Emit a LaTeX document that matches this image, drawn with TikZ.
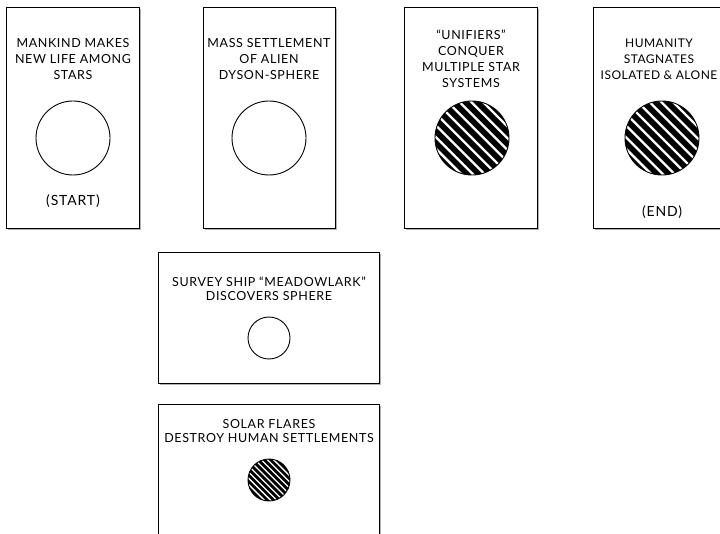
\documentclass[tikz,border=0pt]{standalone}
\usepackage{fontspec}
\setmainfont{Lato}
\usetikzlibrary{calc}
\begin{document}
\begin{tikzpicture}[x=1pt,y=-1pt,
  box/.style={draw=black, line width=0.9pt, fill=white, inner sep=0pt},
  lbl/.style={align=center, font=\fontsize{12.5}{16}\selectfont\addfontfeature{LetterSpace=5}, inner sep=0pt},
  lbls/.style={align=center, font=\fontsize{12.5}{13.5}\selectfont\addfontfeature{LetterSpace=5}, inner sep=0pt},
  endlbl/.style={align=center, font=\fontsize{14}{16}\selectfont\addfontfeature{LetterSpace=6}, inner sep=0pt},
  ring/.style={draw=black, line width=0.9pt, fill=white, circle, inner sep=0pt},
  shad/.style={fill=black!30}]
\useasboundingbox (0,0) rectangle (720,534);
% shadows
\fill[shad] (8,9) rectangle (141,230);
\fill[shad] (205,9) rectangle (337,230);
\fill[shad] (406,9) rectangle (539,230);
\fill[shad] (595,9) rectangle (728,230);
\fill[shad] (160,254) rectangle (381,385);
\fill[shad] (160,406) rectangle (381,540);
% boxes
\node[box, minimum width=133pt, minimum height=221pt] (b1) at (72.5,117.5) {};
\node[box, minimum width=132pt, minimum height=221pt] (b2) at (269,117.5) {};
\node[box, minimum width=133pt, minimum height=221pt] (b3) at (470.5,117.5) {};
\node[box, minimum width=133pt, minimum height=221pt] (b4) at (659.5,117.5) {};
\node[box, minimum width=221pt, minimum height=131pt] (b5) at (268.5,317.5) {};
\node[box, minimum width=221pt, minimum height=131pt] (b6) at (268.5,469.5) {};
% texts
\node[lbl] (t1) at (73,59) {MANKIND MAKES\\NEW LIFE AMONG\\STARS};
\node[endlbl] (s1) at (73,201) {(START)};
\node[lbl] (t2) at (269,59) {MASS SETTLEMENT\\OF ALIEN\\DYSON-SPHERE};
\node[lbl] (t3) at (471,59) {“UNIFIERS”\\CONQUER\\MULTIPLE STAR\\SYSTEMS};
\node[lbl, font=\fontsize{12}{16}\selectfont\addfontfeature{LetterSpace=4}] (t4) at (659,59) {HUMANITY\\STAGNATES\\ISOLATED \& ALONE};
\node[endlbl] (s4) at (662,212) {(END)};
\node[lbls] (t5) at (269,289) {SURVEY SHIP “MEADOWLARK”\\DISCOVERS SPHERE};
\node[lbls] (t6) at (269,431) {SOLAR FLARES\\DESTROY HUMAN SETTLEMENTS};
% circles
\node[ring, minimum size=74pt] (c1) at (73,138) {};
\node[ring, minimum size=74pt] (c2) at (269,138) {};
\node[ring, minimum size=42pt] (c5) at (269,338) {};
% hatched circles
\foreach \cx/\cy/\r/\sp/\w in {472/138/37/8.3/2.4, 662/138/37/8.3/2.4, 269/480/21/4.4/1.3}{
  \begin{scope}
    \fill[black] (\cx,\cy) circle[radius=\r];
    \clip (\cx,\cy) circle[radius=\r];
    \foreach \k in {-7,...,7}{
      \draw[white, line width=\w pt] ($(\cx,\cy)+(\k*\sp*0.7071,-\k*\sp*0.7071)+(-60,-60)$) -- ++(120,120);
    }
  \end{scope}
  \draw[black, line width=0.9pt] (\cx,\cy) circle[radius=\r];
}
\end{tikzpicture}
\end{document}
